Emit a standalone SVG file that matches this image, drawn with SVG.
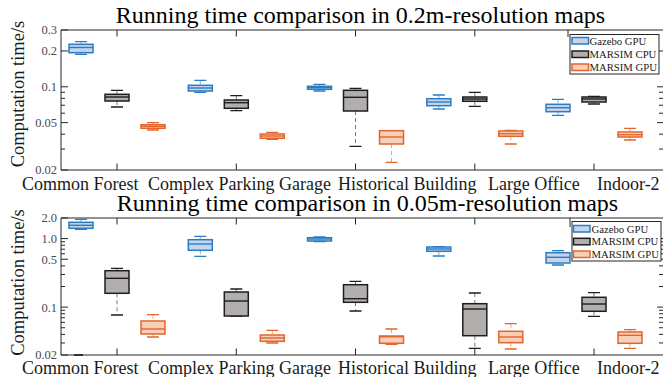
<svg xmlns="http://www.w3.org/2000/svg" width="663" height="377" viewBox="0 0 663 377">
  <style>
    text { font-family: "Liberation Serif", "Times New Roman", serif; }
    .title { font-size: 24px; fill: #000; text-anchor: middle; }
    .ylab { font-size: 18.5px; fill: #1a1a1a; text-anchor: middle; }
    .cat { font-size: 18px; fill: #1a1a1a; }
    .tl { font-size: 12.5px; fill: #4a4a4a; text-anchor: end; }
    .leg { font-size: 10.7px; fill: #1a1a1a; }
    .ax { stroke: #262626; stroke-width: 1; fill: none; }
    .tk { stroke: #262626; stroke-width: 1; fill: none; }
    .legbox { fill: #fff; stroke: #262626; stroke-width: 1; }
    .box { stroke-width: 1.5; }
    .cap { stroke-width: 1.3; fill: none; }
    .wh { stroke-width: 1; stroke-dasharray: 4 3; fill: none; opacity: 0.6; }
    .gz .box { fill: #c6d4ec; stroke: #2b7cc4; }
    .gz .cap, .gz .med, .gz .wh { stroke: #2b7cc4; }
    .cpu .box { fill: #b2aead; stroke: #1e1e1e; }
    .cpu .cap, .cpu .med, .cpu .wh { stroke: #1e1e1e; }
    .gpu .box { fill: #f8d0ba; stroke: #e2652d; }
    .gpu .cap, .gpu .med, .gpu .wh { stroke: #e2652d; }
    .med { stroke-width: 1.4; fill: none; }
  </style>

  <!-- ===================== Upper panel: 0.2 m maps ===================== -->
  <text class="title" x="360.5" y="23">Running time comparison in 0.2m-resolution maps</text>
  <text class="ylab" transform="translate(24,94) rotate(-90)">Computation time/s</text>

  <g id="top-axes">
    <path class="ax" d="M61,30 H663 M61,30 V170 H663"/>
    <!-- major y ticks -->
    <path class="tk" d="M61,30 h7 M61,50.96 h7 M61,86.8 h7 M61,122.64 h7 M61,170 h7"/>
    <!-- minor y ticks -->
    <path class="tk" d="M61,92.25 h4 M61,98.34 h4 M61,105.24 h4 M61,113.21 h4 M61,134.18 h4 M61,149.05 h4"/>
    <!-- right-side y ticks -->
    <path class="tk" d="M663,50.96 h-6 M663,86.8 h-6 M663,122.64 h-6 M663,92.25 h-4 M663,98.34 h-4 M663,105.24 h-4 M663,113.21 h-4 M663,134.18 h-4 M663,149.05 h-4"/>
    <!-- x ticks -->
    <path class="tk" d="M117,170 v-6.5 M236.3,170 v-6.5 M355.5,170 v-6.5 M474.8,170 v-6.5 M594,170 v-6.5 M117,30 v6.5 M236.3,30 v6.5 M355.5,30 v6.5 M474.8,30 v6.5 M568,30 v7"/>
    <text class="tl" x="57" y="34">0.3</text>
    <text class="tl" x="57" y="55">0.2</text>
    <text class="tl" x="57" y="91">0.1</text>
    <text class="tl" x="57" y="127">0.05</text>
    <text class="tl" x="57" y="174">0.02</text>
  </g>

  <g id="top-labels">
    <text class="cat" x="22" y="190">Common Forest</text>
    <text class="cat" x="148" y="190">Complex Parking Garage</text>
    <text class="cat" x="338" y="190">Historical Building</text>
    <text class="cat" x="488" y="190">Large Office</text>
    <text class="cat" x="597" y="190">Indoor-2</text>
  </g>

  <g id="top-boxes">
    <!-- Common Forest -->
    <g id="t-forest-gazebo" class="gz">
      <path class="wh" d="M81,41.7 V44.3 M81,52.7 V54.3"/>
      <path class="cap" d="M75,41.7 h12 M75,54.3 h12"/>
      <rect class="box" x="69" y="44.3" width="24" height="8.4"/>
      <path class="med" d="M69,47.5 h24"/>
    </g>
    <g id="t-forest-cpu" class="cpu">
      <path class="wh" d="M117,90.3 V94.3 M117,101 V107"/>
      <path class="cap" d="M111,90.3 h12 M111,107 h12"/>
      <rect class="box" x="105" y="94.3" width="24" height="6.7"/>
      <path class="med" d="M105,97 h24"/>
    </g>
    <g id="t-forest-gpu" class="gpu">
      <path class="wh" d="M153,122.7 V124.7 M153,128.3 V130"/>
      <path class="cap" d="M147,122.7 h12 M147,130 h12"/>
      <rect class="box" x="141" y="124.7" width="24" height="3.6"/>
      <path class="med" d="M141,126.3 h24"/>
    </g>
    <!-- Complex Parking Garage -->
    <g id="t-parking-gazebo" class="gz">
      <path class="wh" d="M200.3,80.3 V85.3 M200.3,91 V92.3"/>
      <path class="cap" d="M194.3,80.3 h12 M194.3,92.3 h12"/>
      <rect class="box" x="188.3" y="85.3" width="24" height="5.7"/>
      <path class="med" d="M188.3,88 h24"/>
    </g>
    <g id="t-parking-cpu" class="cpu">
      <path class="wh" d="M236.3,95.7 V100 M236.3,108.3 V110.7"/>
      <path class="cap" d="M230.3,95.7 h12 M230.3,110.7 h12"/>
      <rect class="box" x="224.3" y="100" width="24" height="8.3"/>
      <path class="med" d="M224.3,102.7 h24"/>
    </g>
    <g id="t-parking-gpu" class="gpu">
      <path class="wh" d="M272.3,132.3 V134 M272.3,138.3 V139.3"/>
      <path class="cap" d="M266.3,132.3 h12 M266.3,139.3 h12"/>
      <rect class="box" x="260.3" y="134" width="24" height="4.3"/>
      <path class="med" d="M260.3,136 h24"/>
    </g>
    <!-- Historical Building -->
    <g id="t-hist-gazebo" class="gz">
      <path class="wh" d="M319.5,84.3 V86.3 M319.5,89.3 V91"/>
      <path class="cap" d="M313.5,84.3 h12 M313.5,91 h12"/>
      <rect class="box" x="307.5" y="86.3" width="24" height="3"/>
      <path class="med" d="M307.5,87.7 h24"/>
    </g>
    <g id="t-hist-cpu" class="cpu">
      <path class="wh" d="M355.5,88.3 V90.3 M355.5,111 V146.3"/>
      <path class="cap" d="M349.5,88.3 h12 M349.5,146.3 h12"/>
      <rect class="box" x="343.5" y="90.3" width="24" height="20.7"/>
      <path class="med" d="M343.5,97.3 h24"/>
    </g>
    <g id="t-hist-gpu" class="gpu">
      <path class="wh" d="M391.5,144 V162.3"/>
      <path class="cap" d="M385.5,130.7 h12 M385.5,162.3 h12"/>
      <rect class="box" x="379.5" y="130.7" width="24" height="13.3"/>
      <path class="med" d="M379.5,137 h24"/>
    </g>
    <!-- Large Office -->
    <g id="t-office-gazebo" class="gz">
      <path class="wh" d="M438.8,95 V98.7 M438.8,105.7 V109"/>
      <path class="cap" d="M432.8,95 h12 M432.8,109 h12"/>
      <rect class="box" x="426.8" y="98.7" width="24" height="7"/>
      <path class="med" d="M426.8,102 h24"/>
    </g>
    <g id="t-office-cpu" class="cpu">
      <path class="wh" d="M474.8,92.3 V97 M474.8,101.3 V106.3"/>
      <path class="cap" d="M468.8,92.3 h12 M468.8,106.3 h12"/>
      <rect class="box" x="462.8" y="97" width="24" height="4.3"/>
      <path class="med" d="M462.8,99 h24"/>
    </g>
    <g id="t-office-gpu" class="gpu">
      <path class="wh" d="M510.8,130.3 V131 M510.8,136.3 V144"/>
      <path class="cap" d="M504.8,130.3 h12 M504.8,144 h12"/>
      <rect class="box" x="498.8" y="131" width="24" height="5.3"/>
      <path class="med" d="M498.8,133.7 h24"/>
    </g>
    <!-- Indoor-2 -->
    <g id="t-indoor-gazebo" class="gz">
      <path class="wh" d="M558,99.3 V104.3 M558,111.7 V115.3"/>
      <path class="cap" d="M552,99.3 h12 M552,115.3 h12"/>
      <rect class="box" x="546" y="104.3" width="24" height="7.4"/>
      <path class="med" d="M546,107.7 h24"/>
    </g>
    <g id="t-indoor-cpu" class="cpu">
      <path class="wh" d="M594,102 V104"/>
      <path class="cap" d="M588,96.3 h12 M588,104 h12"/>
      <rect class="box" x="582" y="97" width="24" height="5"/>
      <path class="med" d="M582,99 h24"/>
    </g>
    <g id="t-indoor-gpu" class="gpu">
      <path class="wh" d="M630,128.3 V132 M630,137 V140"/>
      <path class="cap" d="M624,128.3 h12 M624,140 h12"/>
      <rect class="box" x="618" y="132" width="24" height="5"/>
      <path class="med" d="M618,134.7 h24"/>
    </g>
  </g>

  <g id="top-legend">
    <rect class="legbox" x="570" y="34.5" width="89" height="39.5"/>
    <g class="gz"><rect class="box" x="572" y="37.5" width="16.5" height="6.5"/></g>
    <g class="cpu"><rect class="box" x="572" y="51" width="16.5" height="6.5"/></g>
    <g class="gpu"><rect class="box" x="572" y="64" width="16.5" height="6.5"/></g>
    <text class="leg" x="589.5" y="44.5">Gazebo GPU</text>
    <text class="leg" x="589.5" y="58">MARSIM CPU</text>
    <text class="leg" x="589.5" y="71">MARSIM GPU</text>
  </g>

  <!-- ===================== Lower panel: 0.05 m maps ===================== -->
  <text class="title" x="367.5" y="211">Running time comparison in 0.05m-resolution maps</text>
  <text class="ylab" transform="translate(24,282.5) rotate(-90)">Computation time/s</text>

  <g id="bottom-axes">
    <path class="ax" d="M61,218 H663 M61,218 V355 H663"/>
    <path class="tk" d="M61,218 h7 M61,238.62 h7 M61,259.24 h7 M61,307.12 h7 M61,355 h7"/>
    <path class="tk" d="M61,241.75 h4 M61,245.26 h4 M61,249.23 h4 M61,253.82 h4 M61,265.88 h4 M61,274.44 h4 M61,286.5 h4 M61,310.26 h4 M61,313.76 h4 M61,317.73 h4 M61,322.32 h4 M61,327.74 h4 M61,334.38 h4 M61,342.94 h4"/>
    <path class="tk" d="M663,238.62 h-6 M663,259.24 h-6 M663,307.12 h-6 M663,241.75 h-4 M663,245.26 h-4 M663,249.23 h-4 M663,253.82 h-4 M663,265.88 h-4 M663,274.44 h-4 M663,286.5 h-4 M663,310.26 h-4 M663,313.76 h-4 M663,317.73 h-4 M663,322.32 h-4 M663,327.74 h-4 M663,334.38 h-4 M663,342.94 h-4"/>
    <path class="tk" d="M117,355 v-6.5 M236.3,355 v-6.5 M355.5,355 v-6.5 M474.8,355 v-6.5 M594,355 v-6.5 M117,218 v6.5 M236.3,218 v6.5 M355.5,218 v6.5 M474.8,218 v6.5 M570,218 v9"/>
    <path class="tk" d="M74,355 h9" style="stroke-width:1.8"/>
    <text class="tl" x="57" y="222">2.0</text>
    <text class="tl" x="57" y="243">1.0</text>
    <text class="tl" x="57" y="263.5">0.5</text>
    <text class="tl" x="57" y="311.5">0.1</text>
    <text class="tl" x="57" y="359">0.02</text>
  </g>

  <g id="bottom-labels">
    <text class="cat" x="22" y="373.5">Common Forest</text>
    <text class="cat" x="148" y="373.5">Complex Parking Garage</text>
    <text class="cat" x="338" y="373.5">Historical Building</text>
    <text class="cat" x="488" y="373.5">Large Office</text>
    <text class="cat" x="597" y="373.5">Indoor-2</text>
  </g>

  <g id="bottom-boxes">
    <!-- Common Forest -->
    <g id="b-forest-gazebo" class="gz">
      <path class="wh" d="M81,219.3 V222.3 M81,228.3 V229.3"/>
      <path class="cap" d="M75,219.3 h12 M75,229.3 h12"/>
      <rect class="box" x="69" y="222.3" width="24" height="6"/>
      <path class="med" d="M69,225.3 h24"/>
    </g>
    <g id="b-forest-cpu" class="cpu">
      <path class="wh" d="M117,268.3 V270.7 M117,293.3 V315"/>
      <path class="cap" d="M111,268.3 h12 M111,315 h12"/>
      <rect class="box" x="105" y="270.7" width="24" height="22.6"/>
      <path class="med" d="M105,278.3 h24"/>
    </g>
    <g id="b-forest-gpu" class="gpu">
      <path class="wh" d="M153,314.7 V321 M153,334 V337"/>
      <path class="cap" d="M147,314.7 h12 M147,337 h12"/>
      <rect class="box" x="141" y="321" width="24" height="13"/>
      <path class="med" d="M141,329 h24"/>
    </g>
    <!-- Complex Parking Garage -->
    <g id="b-parking-gazebo" class="gz">
      <path class="wh" d="M200.3,236.3 V239.7 M200.3,250.3 V256.3"/>
      <path class="cap" d="M194.3,236.3 h12 M194.3,256.3 h12"/>
      <rect class="box" x="188.3" y="239.7" width="24" height="10.6"/>
      <path class="med" d="M188.3,244 h24"/>
    </g>
    <g id="b-parking-cpu" class="cpu">
      <path class="wh" d="M236.3,289 V292"/>
      <path class="cap" d="M230.3,289 h12 M230.3,316 h12"/>
      <rect class="box" x="224.3" y="292" width="24" height="24"/>
      <path class="med" d="M224.3,301 h24"/>
    </g>
    <g id="b-parking-gpu" class="gpu">
      <path class="wh" d="M272.3,330.3 V335 M272.3,341.3 V343"/>
      <path class="cap" d="M266.3,330.3 h12 M266.3,343 h12"/>
      <rect class="box" x="260.3" y="335" width="24" height="6.3"/>
      <path class="med" d="M260.3,338 h24"/>
    </g>
    <!-- Historical Building -->
    <g id="b-hist-gazebo" class="gz">
      <path class="cap" d="M313.5,237 h12 M313.5,241.5 h12"/>
      <rect class="box" x="307.5" y="237.7" width="24" height="3.3"/>
      <path class="med" d="M307.5,239 h24"/>
    </g>
    <g id="b-hist-cpu" class="cpu">
      <path class="wh" d="M355.5,281.3 V284.7 M355.5,302.3 V311"/>
      <path class="cap" d="M349.5,281.3 h12 M349.5,311 h12"/>
      <rect class="box" x="343.5" y="284.7" width="24" height="17.6"/>
      <path class="med" d="M343.5,298.7 h24"/>
    </g>
    <g id="b-hist-gpu" class="gpu">
      <path class="wh" d="M391.5,329 V336"/>
      <path class="cap" d="M385.5,329 h12 M385.5,344.3 h12"/>
      <rect class="box" x="379.5" y="336" width="24" height="7.3"/>
      <path class="med" d="M379.5,336.8 h24"/>
    </g>
    <!-- Large Office -->
    <g id="b-office-gazebo" class="gz">
      <path class="wh" d="M438.8,251.3 V256"/>
      <path class="cap" d="M432.8,246.7 h12 M432.8,256 h12"/>
      <rect class="box" x="426.8" y="247" width="24" height="4.3"/>
      <path class="med" d="M426.8,249 h24"/>
    </g>
    <g id="b-office-cpu" class="cpu">
      <path class="wh" d="M474.8,293 V303.7 M474.8,335.7 V348.3"/>
      <path class="cap" d="M468.8,293 h12 M468.8,348.3 h12"/>
      <rect class="box" x="462.8" y="303.7" width="24" height="32"/>
      <path class="med" d="M462.8,309 h24"/>
    </g>
    <g id="b-office-gpu" class="gpu">
      <path class="wh" d="M510.8,323.7 V331.3 M510.8,342.7 V349"/>
      <path class="cap" d="M504.8,323.7 h12 M504.8,349 h12"/>
      <rect class="box" x="498.8" y="331.3" width="24" height="11.4"/>
      <path class="med" d="M498.8,337 h24"/>
    </g>
    <!-- Indoor-2 -->
    <g id="b-indoor-gazebo" class="gz">
      <path class="wh" d="M558,250.7 V252.7 M558,263 V265"/>
      <path class="cap" d="M552,250.7 h12 M552,265 h12"/>
      <rect class="box" x="546" y="252.7" width="24" height="10.3"/>
      <path class="med" d="M546,257.3 h24"/>
    </g>
    <g id="b-indoor-cpu" class="cpu">
      <path class="wh" d="M594,292.7 V297.3 M594,311.3 V316.3"/>
      <path class="cap" d="M588,292.7 h12 M588,316.3 h12"/>
      <rect class="box" x="582" y="297.3" width="24" height="14"/>
      <path class="med" d="M582,304 h24"/>
    </g>
    <g id="b-indoor-gpu" class="gpu">
      <path class="wh" d="M630,329.7 V332 M630,343.3 V348.3"/>
      <path class="cap" d="M624,329.7 h12 M624,348.3 h12"/>
      <rect class="box" x="618" y="332" width="24" height="11.3"/>
      <path class="med" d="M618,335.3 h24"/>
    </g>
  </g>

  <g id="bottom-legend">
    <rect class="legbox" x="572" y="221.5" width="89" height="39.5"/>
    <g class="gz"><rect class="box" x="573.5" y="225.5" width="16.5" height="6.5"/></g>
    <g class="cpu"><rect class="box" x="573.5" y="238.3" width="16.5" height="6.5"/></g>
    <g class="gpu"><rect class="box" x="573.5" y="251" width="16.5" height="6.5"/></g>
    <text class="leg" x="591.5" y="232.5">Gazebo GPU</text>
    <text class="leg" x="591.5" y="245.3">MARSIM CPU</text>
    <text class="leg" x="591.5" y="258">MARSIM GPU</text>
  </g>
</svg>
